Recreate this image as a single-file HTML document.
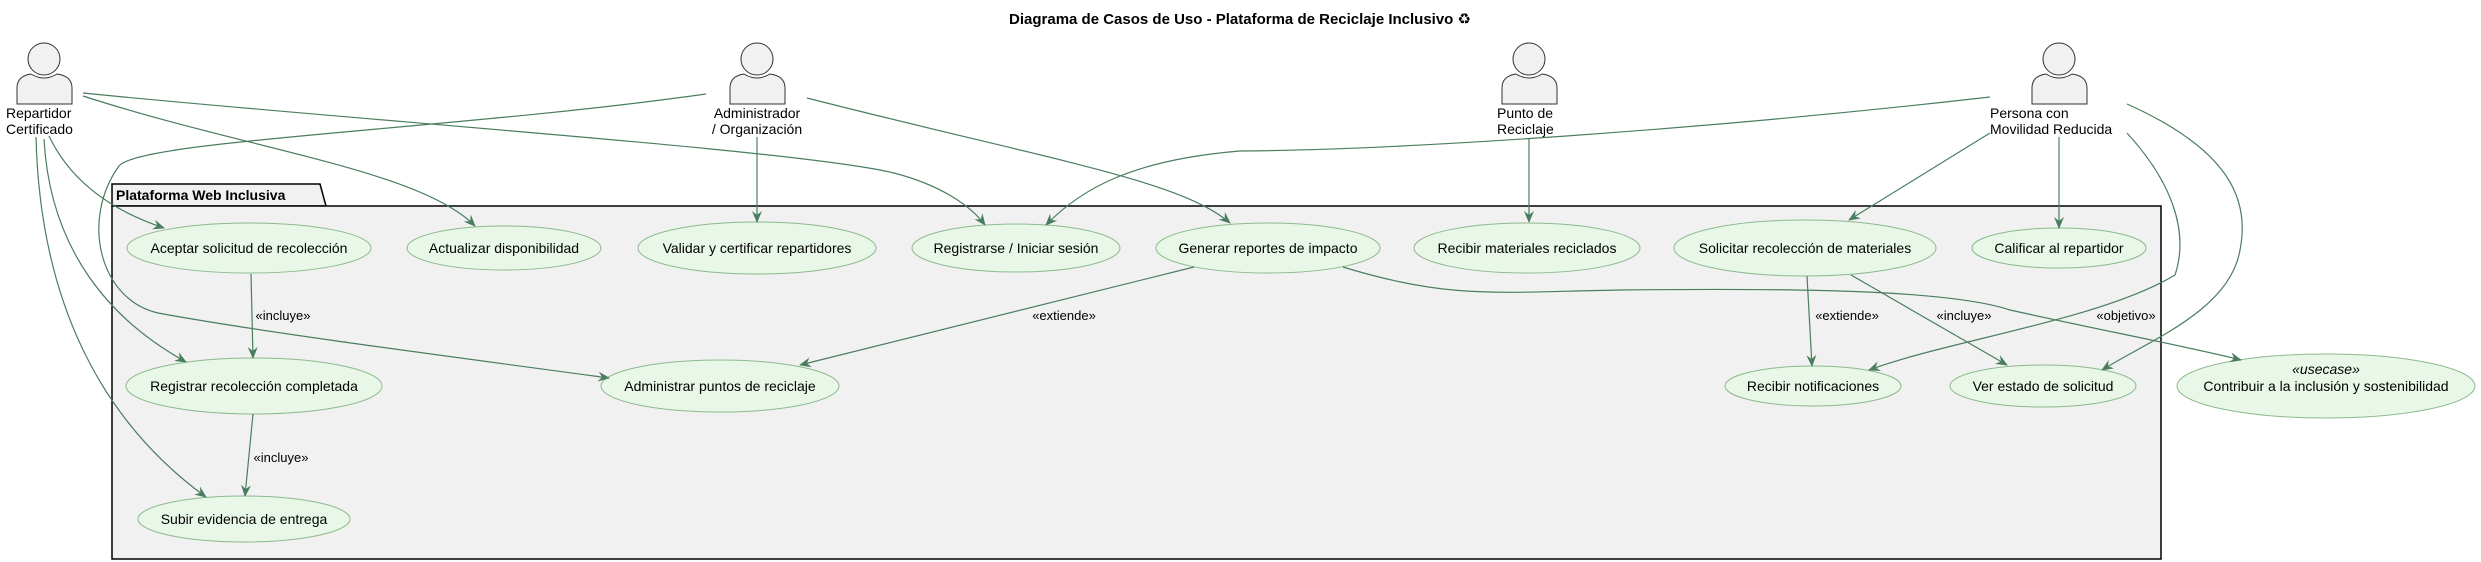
<!DOCTYPE html>
<html><head><meta charset="utf-8"><style>
html,body{margin:0;padding:0;background:#fff;}
svg{display:block;font-family:"Liberation Sans","DejaVu Sans",sans-serif;}
.uc{fill:#E8F7E8;stroke:#8DBA8D;stroke-width:1}
.t{font-size:14px;fill:#000;text-anchor:middle}
.l{font-size:13px;fill:#000;text-anchor:middle}
.e{fill:none;stroke:#4A7D5E;stroke-width:1.2}
.act{fill:#F1F1F1;stroke:#333;stroke-width:1}
</style></head><body>
<svg width="2481" height="562" viewBox="0 0 2481 562" xmlns="http://www.w3.org/2000/svg">
<defs>
<marker id="a" viewBox="0 0 12 10" refX="11" refY="5" markerWidth="12" markerHeight="10" markerUnits="userSpaceOnUse" orient="auto">
<path d="M0,0 L12,5 L0,10 L4,5 Z" fill="#4A7D5E"/>
</marker>
</defs>
<text x="1240" y="24" font-size="15" font-weight="bold" text-anchor="middle">Diagrama de Casos de Uso - Plataforma de Reciclaje Inclusivo ♻</text>

<!-- package -->
<path d="M112,206 L112,184 L320,184 L326,206 Z" fill="#F1F1F1" stroke="#000" stroke-width="1.5"/>
<rect x="112" y="206" width="2049" height="353" fill="#F1F1F1" stroke="#000" stroke-width="1.5"/>
<text x="116" y="200" font-size="14" font-weight="bold">Plataforma Web Inclusiva</text>

<!-- actors -->
<g>
<circle class="act" cx="44" cy="59" r="16"/>
<path class="act" d="M17,104 L17,88 Q17,76 31,74 Q44,82 57,74 Q72,76 72,88 L72,104 Z"/>
<text x="6" y="118" font-size="14">Repartidor</text><text x="6" y="134" font-size="14">Certificado</text>
</g>
<g>
<circle class="act" cx="757" cy="59" r="16"/>
<path class="act" d="M730,104 L730,88 Q730,76 744,74 Q757,82 770,74 Q785,76 785,88 L785,104 Z"/>
<text x="757" y="118" class="t">Administrador</text><text x="757" y="134" class="t">/ Organización</text>
</g>
<g>
<circle class="act" cx="1529" cy="59" r="16"/>
<path class="act" d="M1502,104 L1502,88 Q1502,76 1516,74 Q1529,82 1542,74 Q1557,76 1557,88 L1557,104 Z"/>
<text x="1497" y="118" font-size="14">Punto de</text><text x="1497" y="134" font-size="14">Reciclaje</text>
</g>
<g>
<circle class="act" cx="2059" cy="59" r="16"/>
<path class="act" d="M2032,104 L2032,88 Q2032,76 2046,74 Q2059,82 2072,74 Q2087,76 2087,88 L2087,104 Z"/>
<text x="1990" y="118" font-size="14">Persona con</text><text x="1990" y="134" font-size="14">Movilidad Reducida</text>
</g>

<!-- use cases -->
<ellipse class="uc" cx="249" cy="248" rx="122" ry="25"/><text class="t" x="249" y="253">Aceptar solicitud de recolección</text>
<ellipse class="uc" cx="504" cy="248" rx="97" ry="22"/><text class="t" x="504" y="253">Actualizar disponibilidad</text>
<ellipse class="uc" cx="757" cy="248" rx="119" ry="26"/><text class="t" x="757" y="253">Validar y certificar repartidores</text>
<ellipse class="uc" cx="1016" cy="248" rx="104" ry="24"/><text class="t" x="1016" y="253">Registrarse / Iniciar sesión</text>
<ellipse class="uc" cx="1268" cy="248" rx="112" ry="25"/><text class="t" x="1268" y="253">Generar reportes de impacto</text>
<ellipse class="uc" cx="1527" cy="248" rx="113" ry="25"/><text class="t" x="1527" y="253">Recibir materiales reciclados</text>
<ellipse class="uc" cx="1805" cy="248" rx="131" ry="28"/><text class="t" x="1805" y="253">Solicitar recolección de materiales</text>
<ellipse class="uc" cx="2059" cy="248" rx="87" ry="20"/><text class="t" x="2059" y="253">Calificar al repartidor</text>
<ellipse class="uc" cx="254" cy="386" rx="128" ry="28"/><text class="t" x="254" y="391">Registrar recolección completada</text>
<ellipse class="uc" cx="720" cy="386" rx="119" ry="26"/><text class="t" x="720" y="391">Administrar puntos de reciclaje</text>
<ellipse class="uc" cx="1813" cy="386" rx="88" ry="20"/><text class="t" x="1813" y="391">Recibir notificaciones</text>
<ellipse class="uc" cx="2043" cy="386" rx="93" ry="21"/><text class="t" x="2043" y="391">Ver estado de solicitud</text>
<ellipse class="uc" cx="2326" cy="386" rx="149" ry="32"/><text class="t" x="2326" y="374" font-style="italic">«usecase»</text><text class="t" x="2326" y="391">Contribuir a la inclusión y sostenibilidad</text>
<ellipse class="uc" cx="244" cy="519" rx="106" ry="23"/><text class="t" x="244" y="524">Subir evidencia de entrega</text>

<!-- edges -->
<path class="e" marker-end="url(#a)" d="M83,96 C250,150 420,170 475,226"/>
<path class="e" marker-end="url(#a)" d="M83,93 C350,120 800,150 894,173 C940,185 970,205 985,225"/>
<path class="e" marker-end="url(#a)" d="M49,136 C70,180 110,210 164,228"/>
<path class="e" marker-end="url(#a)" d="M44,139 C50,250 110,320 186,362"/>
<path class="e" marker-end="url(#a)" d="M36,137 C40,300 100,420 206,497"/>
<path class="e" marker-end="url(#a)" d="M706,94 C450,130 140,140 119,166 C80,220 100,300 158,313 C250,330 400,350 609,378"/>
<path class="e" marker-end="url(#a)" d="M757,137 L757,222"/>
<path class="e" marker-end="url(#a)" d="M807,98 C1050,160 1180,180 1230,223"/>
<path class="e" marker-end="url(#a)" d="M1990,97 C1700,130 1400,150 1240,151 C1130,160 1080,190 1046,225"/>
<path class="e" marker-end="url(#a)" d="M1529,139 L1529,222"/>
<path class="e" marker-end="url(#a)" d="M1990,133 L1849,220"/>
<path class="e" marker-end="url(#a)" d="M2059,137 L2059,228"/>
<path class="e" marker-end="url(#a)" d="M2127,133 C2170,180 2190,230 2175,275 C2100,320 1950,340 1869,370"/>
<path class="e" marker-end="url(#a)" d="M2127,104 C2230,150 2250,200 2240,250 C2230,310 2150,340 2102,370"/>
<path class="e" marker-end="url(#a)" d="M251,274 L253,358"/>
<path class="e" marker-end="url(#a)" d="M253,414 L245,496"/>
<path class="e" marker-end="url(#a)" d="M1194,267 L800,365"/>
<path class="e" marker-end="url(#a)" d="M1343,267 C1450,300 1500,292 1620,290 C1800,288 1950,290 2010,310 C2100,330 2180,345 2241,360"/>
<path class="e" marker-end="url(#a)" d="M1807,276 L1812,366"/>
<path class="e" marker-end="url(#a)" d="M1851,275 L2007,365"/>

<!-- edge labels -->
<text class="l" x="283" y="320">«incluye»</text>
<text class="l" x="281" y="462">«incluye»</text>
<text class="l" x="1064" y="320">«extiende»</text>
<text class="l" x="1847" y="320">«extiende»</text>
<text class="l" x="1964" y="320">«incluye»</text>
<text class="l" x="2126" y="320">«objetivo»</text>
</svg>
</body></html>
